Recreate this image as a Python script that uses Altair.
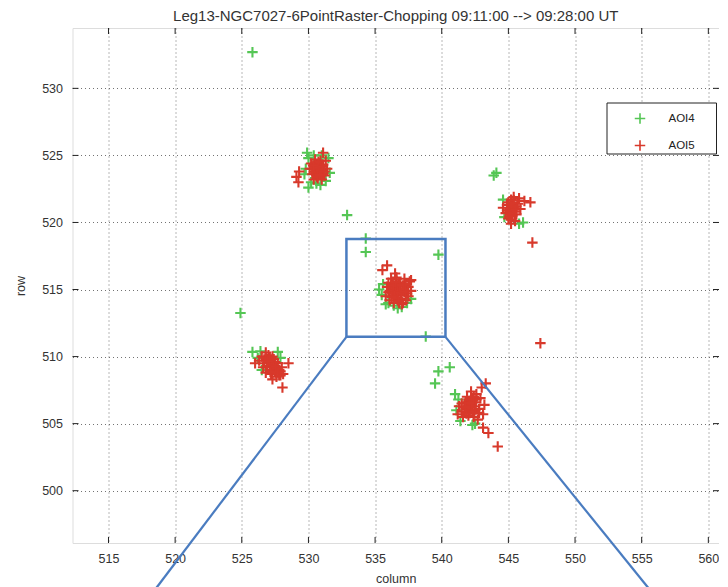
import altair as alt
import pandas as pd

TITLE = "Leg13-NGC7027-6PointRaster-Chopping 09:11:00 --> 09:28:00 UT"
x_ticks = [515, 520, 525, 530, 535, 540, 545, 550, 555, 560]
y_ticks = [500, 505, 510, 515, 520, 525, 530]
series_names = ["AOI4", "AOI5"]
series_colors = ["#55c655", "#d8392b"]

# AOI4 (green) centroids
aoi4_col = [525.8, 532.9, 524.9,
            529.9, 530.0, 530.2, 531.3, 529.8, 531.6, 530.6, 530.4, 531.5, 529.7, 530.0, 531.0, 530.9,
            535.3, 535.5, 536.7, 537.0, 535.6, 537.4, 536.0, 536.4, 535.8, 537.7, 534.3, 534.3, 539.75, 538.8,
            525.8, 527.7, 526.4, 526.2, 527.9, 526.5,
            539.75, 540.6, 539.5, 541.25, 541.0, 541.4, 542.5, 541.1, 542.3,
            543.9, 544.1, 546.1, 545.8, 544.7, 544.6]
aoi4_row = [532.7, 520.55, 513.25,
            525.2, 524.8, 523.0, 523.1, 524.0, 523.7, 522.9, 525.0, 524.8, 523.6, 522.6, 525.0, 522.8,
            515.0, 514.6, 513.6, 513.7, 515.4, 514.0, 514.0, 513.8, 513.9, 514.3, 518.8, 517.8, 517.6, 511.5,
            510.35, 510.35, 510.4, 509.9, 509.9, 509.0,
            508.9, 509.2, 508.0, 506.8, 507.2, 505.2, 505.0, 506.0, 504.9,
            523.5, 523.7, 520.0, 519.9, 520.4, 521.7]

# AOI5 (red) centroids
aoi5_col = [530.8, 530.4, 531.1, 530.3, 531.2, 530.7, 530.9, 530.5, 531.4, 530.1, 530.6, 531.0, 530.8, 530.4,
            531.3, 530.2, 530.9, 530.6, 531.1, 529.1, 529.25, 529.3,
            530.6, 531.0, 530.5, 531.0, 530.7, 530.4, 531.1, 530.6, 530.9, 530.3,
            530.75, 530.55, 530.95, 530.75, 530.45, 531.05, 530.65, 530.85, 531.2, 530.35,
            536.7, 536.3, 537.1, 536.0, 537.4, 536.5, 536.9, 536.2, 537.2, 535.9, 537.5, 536.6, 536.4, 537.0,
            536.8, 535.8, 537.6, 536.1, 536.7, 537.3, 536.4, 536.9, 536.0, 537.7, 536.5, 535.9, 537.7, 535.55,
            536.5, 536.9, 536.3, 537.0, 536.6, 537.1, 536.2, 537.3, 536.5, 536.8, 536.1, 537.5,
            536.7, 536.45, 536.95, 536.7, 536.35, 537.15, 536.6, 536.85, 537.25, 536.25, 536.75, 536.55,
            526.5, 526.9, 527.3, 527.6, 527.9, 526.7, 527.1, 527.5, 527.8, 527.0, 527.4, 527.7, 528.0, 526.3,
            526.6, 527.2, 527.6, 528.1, 526.8, 527.3, 528.05, 526.0, 526.8, 527.3, 528.5,
            527.0, 527.4, 526.8, 527.6, 527.2, 527.8, 526.9, 527.5, 527.1, 527.9,
            527.25, 527.05, 527.45, 527.35, 526.95, 527.65, 527.15, 527.55,
            542.1, 541.7, 542.5, 541.5, 542.8, 542.0, 542.4, 541.3, 542.9, 541.9, 542.6, 541.6, 543.1, 542.3,
            541.2, 542.7, 543.2, 541.8, 542.2, 543.3, 543.1, 543.5, 544.2, 543.0,
            542.0, 542.3, 541.8, 542.5, 542.1, 542.6, 541.7, 542.2, 542.8, 541.5,
            542.15, 541.95, 542.35, 542.45, 541.85, 542.25, 542.05, 542.55, 542.4, 541.75,
            545.3, 544.9, 545.7, 544.8, 545.6, 545.2, 545.0, 545.5, 545.9, 544.6, 545.4, 545.1, 545.8, 545.2,
            546.65, 546.8, 546.2, 547.4,
            545.3, 545.1, 545.5, 545.3, 545.0, 545.6, 545.2, 544.9,
            545.35, 545.15, 545.45, 545.25, 545.05, 545.55, 545.4]
aoi5_row = [523.9, 524.2, 524.3, 523.6, 523.5, 523.3, 524.6, 524.7, 524.0, 524.0, 523.7, 523.2, 524.4, 523.2,
            524.6, 524.4, 523.6, 524.1, 525.2, 523.4, 523.0, 523.8,
            523.9, 523.9, 524.4, 524.0, 524.2, 523.8, 523.6, 523.5, 524.2, 524.0,
            524.05, 523.75, 523.85, 524.5, 524.1, 524.15, 523.4, 523.55, 523.8, 524.25,
            515.0, 515.4, 515.3, 514.8, 514.7, 514.4, 514.3, 515.8, 515.8, 515.2, 515.2, 515.9, 514.0, 513.9,
            515.5, 514.5, 515.6, 514.2, 514.6, 514.2, 515.1, 514.9, 515.5, 514.9, 516.2, 516.8, 515.7, 516.45,
            515.1, 515.1, 514.7, 514.6, 515.6, 514.0, 515.1, 515.4, 514.9, 514.0, 514.9, 514.5,
            515.25, 514.55, 514.75, 514.35, 515.3, 515.05, 515.75, 515.35, 514.85, 514.45, 514.15, 515.55,
            510.0, 509.8, 509.5, 509.2, 508.9, 509.5, 509.2, 508.9, 508.6, 510.1, 509.8, 509.5, 509.2, 509.7,
            509.2, 508.7, 508.5, 508.7, 510.3, 510.0, 507.7, 509.5, 508.8, 508.3, 509.5,
            509.6, 509.3, 509.9, 508.8, 509.0, 509.0, 509.3, 509.6, 509.9, 508.6,
            509.45, 509.75, 509.05, 509.35, 509.65, 509.1, 508.85, 509.25,
            506.2, 506.5, 506.6, 505.9, 506.1, 505.6, 505.5, 506.3, 506.9, 507.0, 507.2, 505.5, 505.7, 506.9,
            505.7, 505.3, 506.4, 506.1, 507.4, 508.0, 504.7, 504.3, 503.3, 507.7,
            506.3, 506.0, 506.6, 506.3, 505.8, 506.8, 505.9, 506.6, 505.8, 506.5,
            506.45, 506.15, 506.75, 505.95, 505.75, 506.35, 506.55, 506.05, 507.0, 506.25,
            521.0, 521.3, 521.4, 520.7, 520.6, 521.7, 520.3, 520.1, 521.0, 521.1, 521.9, 520.8, 521.8, 519.9,
            521.5, 518.5, 521.6, 511.0,
            521.3, 521.0, 520.8, 520.5, 521.5, 521.2, 520.2, 520.9,
            521.15, 520.65, 521.05, 521.45, 520.45, 520.95, 521.65]

# Blue zoom annotation (data units)
box_col = [532.85]
box_col2 = [540.28]
box_row = [511.47]
box_row2 = [518.76]
zoom_col = [532.85, 540.28]
zoom_row = [511.47, 511.47]
zoom_col2 = [518.4, 555.7]
zoom_row2 = [492.5, 492.5]

W, H = 646.5, 515
XDOM = [512.3, 560.8]
YDOM = [496.1, 534.5]
FONT = "Liberation Sans"
CROSS = "M-1,0L1,0M0,-1L0,1"

pts = pd.DataFrame({
    "column": aoi4_col + aoi5_col,
    "row": aoi4_row + aoi5_row,
    "aoi": ["AOI4"] * len(aoi4_col) + ["AOI5"] * len(aoi5_col),
})

xs = alt.Scale(domain=XDOM, nice=False, zero=False)
ys = alt.Scale(domain=YDOM, nice=False, zero=False)

xaxis = alt.Axis(values=x_ticks, tickSize=0, domain=False, grid=True, gridDash=[1, 3],
                 gridColor="#444", gridOpacity=0.75, labelFont=FONT, labelFontSize=12.5,
                 labelColor="#333", labelPadding=9, title="column", titleFont=FONT,
                 titleFontSize=12.5, titleFontWeight="normal", titleColor="#333", titlePadding=8)
yaxis = alt.Axis(values=y_ticks, tickSize=0, domain=False, grid=True, gridDash=[1, 3],
                 gridColor="#444", gridOpacity=0.75, labelFont=FONT, labelFontSize=12.5,
                 labelColor="#333", labelPadding=10, title="row", titleFont=FONT,
                 titleFontSize=12.5, titleFontWeight="normal", titleColor="#333", titlePadding=14)

points = alt.Chart(pts).mark_point(shape=CROSS, filled=False, size=110, strokeWidth=2.1, opacity=1).encode(
    x=alt.X("column:Q", scale=xs, axis=xaxis),
    y=alt.Y("row:Q", scale=ys, axis=yaxis),
    color=alt.Color("aoi:N", scale=alt.Scale(domain=series_names, range=series_colors),
                    legend=alt.Legend(title=None, orient="none", legendX=561, legendY=84,
                                      symbolType=CROSS, symbolSize=110, symbolStrokeWidth=1.6,
                                      labelFont=FONT, labelFontSize=11.5, labelColor="#222",
                                      labelOffset=22, rowPadding=10, padding=0)),
    order=alt.Order("aoi:N"),
)

legend_box = alt.Chart(pd.DataFrame({"k": [0]})).mark_rect(
    fill="white", stroke="#222", strokeWidth=1).encode(
    x=alt.value(534.5), x2=alt.value(644), y=alt.value(75), y2=alt.value(126))

xt = pd.DataFrame({"v": x_ticks})
yt = pd.DataFrame({"v": y_ticks})
tick_style = dict(color="#222", strokeWidth=1)
ticks = [
    alt.Chart(xt).mark_rule(**tick_style).encode(x=alt.X("v:Q", scale=xs), y=alt.value(H), y2=alt.value(H - 6)),
    alt.Chart(xt).mark_rule(**tick_style).encode(x=alt.X("v:Q", scale=xs), y=alt.value(0), y2=alt.value(6)),
    alt.Chart(yt).mark_rule(**tick_style).encode(y=alt.Y("v:Q", scale=ys), x=alt.value(0), x2=alt.value(6)),
    alt.Chart(yt).mark_rule(**tick_style).encode(y=alt.Y("v:Q", scale=ys), x=alt.value(W), x2=alt.value(W - 6)),
]

box = alt.Chart(pd.DataFrame({"c": box_col, "c2": box_col2, "r": box_row, "r2": box_row2})).mark_rect(
    filled=False, stroke="#4a7cc0", strokeWidth=2.5).encode(
    x=alt.X("c:Q", scale=xs), x2="c2:Q", y=alt.Y("r:Q", scale=ys), y2="r2:Q")

zlines = alt.Chart(pd.DataFrame({"c": zoom_col, "r": zoom_row, "c2": zoom_col2, "r2": zoom_row2})).mark_rule(
    color="#4a7cc0", strokeWidth=2.2).encode(
    x=alt.X("c:Q", scale=xs), y=alt.Y("r:Q", scale=ys), x2="c2:Q", y2="r2:Q")

chart = alt.layer(points, *ticks, legend_box, box, zlines).properties(
    width=W, height=H,
    title=alt.Title(TITLE, font=FONT, fontSize=15, fontWeight="normal", color="#333", offset=4),
    autosize=alt.AutoSizeParams(type="none"),
    padding={"left": 64.5, "top": 20, "right": 0, "bottom": 60},
).configure_view(stroke="#222", strokeWidth=1.2).configure(background="white")

chart.save("out.html", embed_options={"renderer": "svg", "actions": False})
